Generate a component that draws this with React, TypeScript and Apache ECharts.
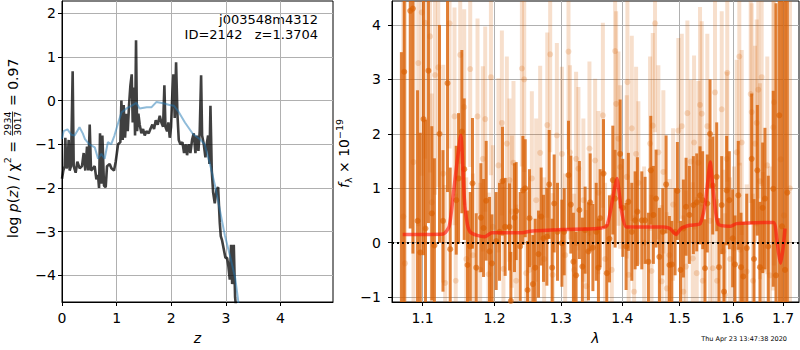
import React, { useEffect, useRef } from "react";
import * as echarts from "echarts";

// ---------- left panel: log p(z) ----------
const zBlack = [0, 0.024, 0.049, 0.061, 0.079, 0.098, 0.122, 0.14, 0.165, 0.195, 0.214, 0.25, 0.281, 0.324, 0.366, 0.397, 0.427, 0.458, 0.482, 0.507, 0.531, 0.568, 0.598, 0.629, 0.659, 0.678, 0.696, 0.72, 0.739, 0.769, 0.8, 0.824, 0.873, 0.904, 0.952, 0.983, 1.026, 1.068, 1.087, 1.111, 1.129, 1.154, 1.178, 1.203, 1.227, 1.252, 1.276, 1.294, 1.319, 1.337, 1.355, 1.374, 1.398, 1.422, 1.453, 1.484, 1.514, 1.545, 1.587, 1.618, 1.654, 1.685, 1.716, 1.752, 1.789, 1.819, 1.85, 1.874, 1.893, 1.923, 1.947, 1.972, 1.996, 2.021, 2.039, 2.063, 2.088, 2.112, 2.137, 2.167, 2.204, 2.234, 2.265, 2.289, 2.32, 2.35, 2.381, 2.411, 2.442, 2.466, 2.497, 2.521, 2.546, 2.564, 2.595, 2.625, 2.649, 2.674, 2.698, 2.717, 2.741, 2.766, 2.796, 2.827, 2.857, 2.888, 2.906, 2.93, 2.961, 2.991, 3.022, 3.046, 3.071, 3.095, 3.114, 3.144, 3.168, 3.205];
const pBlack = [-1.79, -1.6, -1.5, -0.85, -1.55, -1.5, -0.9, -1.6, -1.5, 0.67, -1.5, -1.65, -1.4, -1.55, -1.5, -1.2, -1.6, -1.05, -1.6, -0.55, -1.6, -1.55, -1.5, -1.8, -1.7, -2.0, -0.75, -1.9, -0.8, -1.95, -1.98, -1.5, -1.45, -1.55, -1.6, -1.4, -1.0, -0.95, 0.0, -0.9, -0.1, -0.85, -0.3, -0.7, -0.1, 0.35, 0.6, -0.5, 0.3, -0.8, 1.38, -0.7, -0.3, -0.55, -0.75, -0.65, -0.8, -0.7, -0.75, -0.65, -0.55, -0.65, -0.45, -0.55, -0.35, -0.5, -0.6, 0.35, -0.6, -0.7, -0.5, -0.85, -0.6, 0.2, 0.6, -0.4, 0.88, -0.3, -0.9, -1.0, -0.95, -1.2, -1.0, -1.25, -1.0, -1.2, -0.9, -0.75, -1.2, -0.8, -1.15, -0.7, 0.58, -0.8, -1.0, -1.3, -1.0, -0.8, -1.45, -0.12, -1.6, -2.1, -2.35, -2.05, -1.98, -2.8, -3.1, -3.2, -3.4, -3.6, -3.6, -3.8, -4.1, -3.3, -4.2, -3.3, -4.5, -5.0];
const zBlue = [0, 0.03, 0.1, 0.17, 0.23, 0.32, 0.38, 0.42, 0.5, 0.6, 0.66, 0.72, 0.78, 0.84, 0.9, 0.96, 1.03, 1.09, 1.18, 1.27, 1.36, 1.42, 1.55, 1.64, 1.73, 1.85, 1.97, 2.05, 2.125, 2.25, 2.4, 2.52, 2.61, 2.7, 2.8, 2.89, 2.98, 3.07, 3.17, 3.23, 3.26];
const pBlue = [-0.88, -0.7, -0.66, -0.78, -0.8, -0.61, -0.75, -0.88, -1.0, -1.07, -1.33, -1.22, -1.33, -0.95, -1.0, -0.8, -0.5, -0.27, -0.18, -0.12, -0.05, -0.18, -0.15, -0.15, -0.03, -0.06, -0.1, -0.12, -0.24, -0.5, -0.77, -0.88, -1.0, -1.41, -1.94, -2.51, -3.08, -3.53, -4.06, -4.63, -5.0];

// ---------- right panel: spectrum ----------
const lamDark = [
  1.0723, 1.0760, 1.0838, 1.0873, 1.0934, 1.0970, 1.1013, 1.1040, 1.1079, 1.1124,
  1.1159, 1.1228, 1.1275, 1.1337, 1.1374, 1.1457, 1.1489, 1.1535, 1.1568, 1.1614,
  1.1652, 1.1684, 1.1737, 1.1803, 1.1841, 1.1879, 1.1927, 1.1961, 1.2023, 1.2071,
  1.2115, 1.2154, 1.2218, 1.2238, 1.2292, 1.2317, 1.2377, 1.2417, 1.2452, 1.2487,
  1.2516, 1.2568, 1.2603, 1.2653, 1.2694, 1.2730, 1.2782, 1.2818, 1.2864, 1.2895,
  1.2947, 1.3016, 1.3052, 1.3120, 1.3157, 1.3198, 1.3241, 1.3294, 1.3342, 1.3386,
  1.3440, 1.3468, 1.3512, 1.3566, 1.3603, 1.3631, 1.3686, 1.3741, 1.3785, 1.3841,
  1.3880, 1.3964, 1.4009, 1.4065, 1.4104, 1.4162, 1.4219, 1.4258, 1.4334, 1.4391,
  1.4449, 1.4490, 1.4536, 1.4583, 1.4642, 1.4702, 1.4761, 1.4820, 1.4863, 1.4922,
  1.4963, 1.5021, 1.5072, 1.5121, 1.5181, 1.5255, 1.5317, 1.5378, 1.5428, 1.5471,
  1.5514, 1.5565, 1.5616, 1.5691, 1.5735, 1.5786, 1.5830, 1.5881, 1.5931, 1.5996,
  1.6041, 1.6105, 1.6158, 1.6203, 1.6270, 1.6368, 1.6414, 1.6480, 1.6532, 1.6586,
  1.6632, 1.6699, 1.6800, 1.6855, 1.6922, 1.6978, 1.7039, 1.7087,
];
const fluxDark = [
  -1.5, 3.14, 4.26, 4.3, 0.40, -0.18, 2.27, 0.26, 3.16, 0.54,
  -0.05, 2.0, 0.4, 2.93, -0.12, 0.78, 1.18, 2.04, 1.35, -0.41,
  -0.07, 1.09, -0.46, 0.46, 0.27, 0.77, -0.16, -0.38, 0.03, 0.2,
  1.13, 0.29, 0.29, -1.07, 0.46, 0.58, -0.07, 0.96, 1.0, -0.87,
  0.45, -0.76, -0.46, -0.21, 0.48, 0.08, 0.11, 1.07, -0.46, 0.72,
  0.2, -0.01, 0.2, 1.24, 0.70, -0.35, -0.6, 0.6, -0.44, 0.23,
  -0.16, 0.74, -0.09, 0.2, -0.46, 0.45, 1.27, -0.56, 0.07, 1.15,
  0.81, 1.63, 0.64, -0.07, 0.75, 0.2, 0.41, 0.57, 0.41, 0.41,
  -0.35, 1.33, 0.51, 0.81, -0.26, 0.2, 1.07, -0.41, -0.4, 0.2,
  0.95, -0.5, 0.26, 0.66, 0.51, 0.69, 0.74, 0.87, 0.78, -0.47,
  0.72, 2.0, 1.05, 1.21, -0.45, 0.69, -0.9, 0.96, 0.78, 0.08,
  -0.4, 0.87, -0.45, -0.62, -0.1, 1.54, -0.3, 1.33, -0.45, 0.64,
  0.81, -0.07, 0.99, -0.6, 2.34, 0.3, -0.5, 0.92,
];
const errDark = [
  5, 5, 4, 4.5, 2.4, 2.2, 2.5, 2.0, 2.8, 1.6,
  1.6, 2.0, 1.3, 2.0, 1.5, 1.0, 1.2, 1.5, 1.3, 1.0,
  1.0, 1.2, 1.0, 1.0, 0.9, 1.1, 1.0, 0.9, 0.9, 0.9,
  1.0, 0.9, 0.8, 0.9, 1.0, 0.9, 1.0, 1.0, 0.9, 0.9,
  0.9, 0.9, 0.9, 0.8, 0.9, 0.8, 0.9, 1.0, 0.9, 0.9,
  0.9, 0.8, 0.8, 1.0, 0.9, 0.9, 0.8, 0.9, 0.9, 0.8,
  0.9, 0.9, 0.8, 0.9, 0.9, 0.9, 1.0, 0.9, 0.8, 1.0,
  0.9, 1.0, 0.9, 0.8, 0.9, 0.9, 0.9, 1.0, 0.9, 0.8,
  0.9, 1.0, 0.9, 0.9, 0.9, 0.8, 0.9, 0.9, 0.8, 0.8,
  0.9, 0.9, 0.9, 0.9, 0.9, 0.9, 0.9, 0.9, 0.9, 0.9,
  0.9, 1.0, 0.9, 1.0, 0.9, 0.9, 0.9, 1.0, 0.9, 0.9,
  0.9, 1.0, 1.0, 1.0, 1.0, 1.2, 1.1, 1.2, 1.2, 1.2,
  1.3, 1.3, 1.8, 5, 5, 5, 5, 5,
];

const lamLight = [
  1.0748, 1.0770, 1.0881, 1.0944, 1.0989, 1.1036, 1.1101, 1.1124, 1.1167, 1.1211,
  1.1279, 1.1305, 1.1365, 1.1433, 1.1450, 1.1512, 1.1568, 1.1596, 1.1652, 1.1690,
  1.1755, 1.1793, 1.1831, 1.1865, 1.1913, 1.1947, 1.1976, 1.2056, 1.2106, 1.2129,
  1.2179, 1.2218, 1.2253, 1.2277, 1.2317, 1.2402, 1.2437, 1.2467, 1.2516, 1.2552,
  1.2618, 1.2679, 1.2740, 1.2788, 1.2833, 1.2872, 1.2937, 1.3016, 1.3068, 1.3120,
  1.3143, 1.3210, 1.3241, 1.3278, 1.3358, 1.3402, 1.3456, 1.3549, 1.3603, 1.3676,
  1.3713, 1.3824, 1.3880, 1.3897, 1.3935, 1.3964, 1.4076, 1.4087, 1.4108, 1.4162,
  1.4202, 1.4236, 1.4275, 1.4374, 1.4478, 1.4504, 1.4525, 1.4565, 1.4624, 1.4683,
  1.4712, 1.4773, 1.4820, 1.4886, 1.4981, 1.5043, 1.5072, 1.5121, 1.5145, 1.5207,
  1.5244, 1.5268, 1.5317, 1.5347, 1.5378, 1.5410, 1.5428, 1.5514, 1.5565, 1.5616,
  1.5659, 1.5697, 1.5786, 1.5816, 1.5849, 1.5881, 1.5892, 1.5945, 1.6022, 1.6074,
  1.6125, 1.6139, 1.6172, 1.6270, 1.6348, 1.6368, 1.6394, 1.6433, 1.6467, 1.6499,
  1.6532, 1.6566, 1.6592, 1.6679, 1.6733, 1.6800, 1.6814, 1.6950, 1.7018, 1.7142,
];
const fluxLight = [
  0.48, -0.38, 1.48, 3.3, 4.23, 4.04, 3.79, 0.74, 3.08, 3.22,
  1.27, -0.74, 4.03, 2.32, -0.7, 3.45, 2.49, -0.3, 3.19, -0.23,
  2.32, -0.5, 1.54, 2.27, -0.58, 3.04, 0.29, 1.42, 2.2, -0.48,
  1.82, 1.15, 0.57, 1.47, -0.7, 3.2, 3.0, -0.56, -0.5, 1.18,
  0.78, 1.65, -0.3, 2.16, 3.46, -0.59, 1.97, 1.63, -0.23, 3.51,
  1.66, -0.5, 1.54, 1.36, 0.78, -0.8, 1.73, 1.51, 0.92, 2.34,
  -0.3, -0.5, 3.52, 2.55, 1.91, 1.39, 1.21, 2.95, -0.59, 2.1,
  -0.9, 1.63, 1.1, 0.0, 1.82, -0.52, 2.15, 4.03, 1.66, -0.71,
  1.3, -0.84, -0.23, 0.7, 2.06, 2.14, -0.9, -0.44, 2.38, 1.49,
  -0.29, 1.84, -0.56, 1.47, 2.53, 2.37, -0.7, 2.14, 0.4, -0.47,
  2.76, -0.7, 2.45, -0.16, -0.96, 1.54, 3.12, -0.3, -0.1, 1.66,
  3.42, -0.13, 1.84, -0.53, 2.73, 2.4, -0.7, 1.82, 2.2, 2.81,
  1.13, 3.04, -0.5, 1.42, -0.6, 2.12, 2.58, 1.53, 0.5, 1.0,
];
const errLight = [
  5, 5, 3, 3, 3, 2.5, 2.5, 2.0, 2.2, 2.2,
  2.0, 1.8, 2.3, 2.0, 1.6, 2.0, 1.8, 1.5, 1.8, 1.5,
  1.8, 1.6, 1.7, 1.7, 1.5, 1.8, 1.5, 1.6, 1.7, 1.5,
  1.6, 1.5, 1.4, 1.5, 1.4, 1.8, 1.7, 1.5, 1.5, 1.6,
  1.5, 1.6, 1.5, 1.7, 1.8, 1.5, 1.7, 1.6, 1.5, 1.8,
  1.6, 1.4, 1.6, 1.5, 1.5, 1.4, 1.6, 1.5, 1.5, 1.7,
  1.4, 1.4, 1.8, 1.7, 1.6, 1.5, 1.5, 1.8, 1.4, 1.7,
  1.4, 1.6, 1.5, 1.4, 1.6, 1.4, 1.7, 2.0, 1.6, 1.4,
  1.5, 1.4, 1.4, 1.4, 1.7, 1.7, 1.4, 1.4, 1.7, 1.5,
  1.4, 1.6, 1.4, 1.5, 1.8, 1.7, 1.4, 1.7, 1.5, 1.5,
  1.8, 1.5, 1.8, 1.5, 1.5, 1.6, 2.0, 1.5, 1.5, 1.7,
  2.0, 1.6, 1.7, 1.6, 2.0, 2.0, 1.6, 1.8, 1.9, 2.0,
  1.8, 2.0, 1.8, 2.0, 2.0, 3, 3, 5, 5, 5,
];

const lamModel = [1.074, 1.128, 1.136, 1.141, 1.147, 1.152, 1.157, 1.161, 1.165, 1.174, 1.186, 1.196, 1.210, 1.238, 1.253, 1.304, 1.358, 1.374, 1.382, 1.387, 1.391, 1.395, 1.399, 1.407, 1.471, 1.483, 1.494, 1.503, 1.519, 1.538, 1.547, 1.552, 1.557, 1.560, 1.564, 1.572, 1.595, 1.607, 1.680, 1.687, 1.691, 1.695, 1.700, 1.704];
const fluxModel = [0.15, 0.16, 0.3, 0.81, 1.5, 1.97, 0.81, 0.35, 0.2, 0.14, 0.11, 0.18, 0.18, 0.18, 0.21, 0.24, 0.26, 0.31, 0.69, 1.0, 1.18, 0.9, 0.57, 0.29, 0.29, 0.26, 0.15, 0.26, 0.32, 0.35, 0.69, 1.1, 1.48, 1.2, 0.81, 0.34, 0.3, 0.35, 0.37, 0.08, -0.2, -0.38, -0.1, 0.26];

// ---------- ticks ----------
const zTicks = [0, 1, 2, 3, 4];
const pTicks = [-4, -3, -2, -1, 0, 1, 2];
const lamTicks = [1.1, 1.2, 1.3, 1.4, 1.5, 1.6, 1.7];
const fTicks = [-1, 0, 1, 2, 3, 4];

const FONT = "DejaVu Sans";
const Z_MIN = 0, Z_MAX = 4.96, P_MIN = -4.61, P_MAX = 2.28;
const LAM_MIN = 1.0602, LAM_MAX = 1.733, F_MIN = -1.09, F_MAX = 4.44;

const minus = (v: number) => String(v).replace("-", "\u2212");

function measure(text: string, size: number, italic = false) {
  const c = document.createElement("canvas").getContext("2d");
  if (!c) return text.length * size * 0.6;
  c.font = `${italic ? "italic " : ""}${size}px "${FONT}"`;
  return c.measureText(text).width;
}

type Part = { t: string; s: number; it?: boolean; dy?: number; frac?: [string, string] };

function rowElements(parts: Part[]) {
  const els: any[] = [];
  let x = 0;
  for (const p of parts) {
    if (p.frac) {
      const w = Math.max(measure(p.frac[0], p.s), measure(p.frac[1], p.s));
      const cx = x + 1 + w / 2;
      const st = { fontSize: p.s, fontFamily: FONT, fill: "#000", align: "center", verticalAlign: "middle" };
      els.push({ type: "text", x: cx, y: -5, style: { ...st, text: p.frac[0] } });
      els.push({ type: "text", x: cx, y: 5, style: { ...st, text: p.frac[1] } });
      els.push({ type: "line", shape: { x1: x + 1, y1: 0, x2: x + 1 + w, y2: 0 }, style: { stroke: "#000", lineWidth: 0.8 } });
      x += w + 2;
    } else {
      els.push({
        type: "text",
        x,
        y: p.dy || 0,
        style: {
          text: p.t,
          fontSize: p.s,
          fontStyle: p.it ? "italic" : "normal",
          fontFamily: FONT,
          fill: "#000",
          align: "left",
          verticalAlign: "middle",
        },
      });
      x += measure(p.t, p.s, p.it);
    }
  }
  return els;
}

function errRender(color: string, width: number) {
  return (params: any, api: any) => {
    const x = api.value(0);
    const y = api.value(1);
    const e = api.value(2);
    const lo = Math.max(y - e, F_MIN);
    const hi = Math.min(y + e, F_MAX);
    const p1 = api.coord([x, lo]);
    const p2 = api.coord([x, hi]);
    return {
      type: "line",
      shape: { x1: p1[0], y1: p1[1], x2: p2[0], y2: p2[1] },
      style: { stroke: color, lineWidth: width },
    };
  };
}

function baseAxis(extra: any) {
  return {
    type: "value",
    axisLine: { show: true, onZero: false, lineStyle: { color: "#000", width: 1 } },
    axisTick: { show: true, inside: false, length: 4, lineStyle: { color: "#000" } },
    splitLine: { show: true, lineStyle: { color: "#b0b0b0", width: 1 } },
    ...extra,
  };
}

function buildOption() {
  const L10 = Math.log10;
  const lamTickVals = lamTicks.map((l) => L10(l));
  const dark = lamDark.map((l, i) => [L10(l), fluxDark[i], errDark[i]]);
  const light = lamLight.map((l, i) => [L10(l), fluxLight[i], errLight[i]]);

  const leftLabel = rowElements([
    { t: "log ", s: 14 },
    { t: "p", s: 14, it: true },
    { t: "(", s: 14 },
    { t: "z", s: 14, it: true },
    { t: ") / ", s: 14 },
    { t: "\u03c7", s: 14 },
    { t: "2", s: 9.5, dy: -5 },
    { t: " = ", s: 14 },
    { t: "", s: 9.5, frac: ["2934", "3017"] },
    { t: " = 0.97", s: 14 },
  ]);
  const rightLabel = rowElements([
    { t: "f", s: 14, it: true },
    { t: "\u03bb", s: 9.5, dy: 4 },
    { t: " \u00d7 10", s: 14 },
    { t: "\u221219", s: 9.5, dy: -5 },
  ]);

  const labelStyle = { color: "#000", fontSize: 14, fontFamily: FONT };

  return {
    animation: false,
    textStyle: { fontFamily: FONT },
    grid: [
      { left: 62, top: 1, width: 271, height: 303, show: true, borderColor: "#000", borderWidth: 1 },
      { left: 392, top: 1, width: 407, height: 303, show: true, borderColor: "#000", borderWidth: 1 },
    ],
    xAxis: [
      baseAxis({
        gridIndex: 0,
        min: Z_MIN,
        max: Z_MAX,
        axisTick: { show: true, inside: false, length: 4, lineStyle: { color: "#000" }, customValues: zTicks },
        axisLabel: { ...labelStyle, margin: 9, customValues: zTicks, formatter: (v: number) => minus(v) },
        name: "z",
        nameLocation: "middle",
        nameGap: 29,
        nameTextStyle: { color: "#000", fontSize: 14, fontStyle: "italic", fontFamily: FONT },
      }),
      baseAxis({
        gridIndex: 1,
        min: L10(LAM_MIN),
        max: L10(LAM_MAX),
        axisTick: { show: true, inside: false, length: 4, lineStyle: { color: "#000" }, customValues: lamTickVals },
        axisLabel: { ...labelStyle, margin: 9, customValues: lamTickVals, formatter: (v: number) => Math.pow(10, v).toFixed(1) },
        name: "\u03bb",
        nameLocation: "middle",
        nameGap: 29,
        nameTextStyle: { color: "#000", fontSize: 14, fontStyle: "italic", fontFamily: FONT },
      }),
    ],
    yAxis: [
      baseAxis({
        gridIndex: 0,
        min: P_MIN,
        max: P_MAX,
        axisTick: { show: true, inside: false, length: 4, lineStyle: { color: "#000" }, customValues: pTicks },
        axisLabel: { ...labelStyle, margin: 6, customValues: pTicks, formatter: (v: number) => minus(v) },
      }),
      baseAxis({
        gridIndex: 1,
        min: F_MIN,
        max: F_MAX,
        axisTick: { show: true, inside: false, length: 4, lineStyle: { color: "#000" }, customValues: fTicks },
        axisLabel: { ...labelStyle, margin: 11, customValues: fTicks, formatter: (v: number) => minus(v) },
      }),
    ],
    series: [
      {
        type: "line",
        xAxisIndex: 0,
        yAxisIndex: 0,
        data: zBlack.map((z, i) => [z, pBlack[i]]),
        showSymbol: false,
        symbol: "none",
        clip: true,
        lineStyle: { color: "rgba(0,0,0,0.75)", width: 2.6 },
      },
      {
        type: "line",
        xAxisIndex: 0,
        yAxisIndex: 0,
        data: zBlue.map((z, i) => [z, pBlue[i]]),
        showSymbol: false,
        symbol: "none",
        clip: true,
        lineStyle: { color: "rgba(31,119,180,0.5)", width: 2 },
      },
      {
        type: "custom",
        xAxisIndex: 1,
        yAxisIndex: 1,
        data: light,
        encode: { x: 0, y: 1 },
        renderItem: errRender("rgba(217,95,2,0.2)", 4),
        silent: true,
      },
      {
        type: "scatter",
        xAxisIndex: 1,
        yAxisIndex: 1,
        data: light.map((d) => [d[0], d[1]]),
        symbolSize: 6,
        itemStyle: { color: "rgba(217,95,2,0.25)" },
        silent: true,
      },
      {
        type: "custom",
        xAxisIndex: 1,
        yAxisIndex: 1,
        data: dark,
        encode: { x: 0, y: 1 },
        renderItem: errRender("rgba(217,95,2,0.78)", 3),
        silent: true,
      },
      {
        type: "scatter",
        xAxisIndex: 1,
        yAxisIndex: 1,
        data: dark.map((d) => [d[0], d[1]]),
        symbolSize: 6,
        itemStyle: { color: "rgba(217,95,2,0.8)" },
        silent: true,
      },
      {
        type: "line",
        xAxisIndex: 1,
        yAxisIndex: 1,
        data: lamModel.map((l, i) => [L10(l), fluxModel[i]]),
        showSymbol: false,
        symbol: "none",
        clip: true,
        smooth: 0.2,
        lineStyle: { color: "rgba(255,20,10,0.62)", width: 3.5 },
        markLine: {
          silent: true,
          symbol: ["none", "none"],
          label: { show: false },
          lineStyle: { type: [2, 3], color: "#000", width: 2 },
          data: [{ yAxis: 0 }],
        },
      },
    ],
    graphic: [
      {
        type: "text",
        right: 800 - 318,
        top: 13,
        style: { text: "j003548m4312", fontSize: 13, fontFamily: FONT, fill: "#000" },
      },
      {
        type: "text",
        right: 800 - 318,
        top: 27.5,
        style: { text: "ID=2142   z=1.3704", fontSize: 13, fontFamily: FONT, fill: "#000" },
      },
      {
        type: "text",
        right: 800 - 787,
        top: 335.5,
        style: { text: "Thu Apr 23 13:47:38 2020", fontSize: 6.5, fontFamily: FONT, fill: "#000" },
      },
      { type: "group", x: 12.5, y: 238, rotation: Math.PI / 2, children: leftLabel },
      { type: "group", x: 344, y: 188, rotation: Math.PI / 2, children: rightLabel },
    ],
  };
}

export default function App() {
  const ref = useRef<HTMLDivElement>(null);
  useEffect(() => {
    document.body.style.margin = "0";
    const chart = echarts.init(ref.current as HTMLDivElement, undefined, { renderer: "svg" });
    chart.setOption(buildOption() as any);
    return () => chart.dispose();
  }, []);
  return <div ref={ref} style={{ width: 800, height: 350 }} />;
}
